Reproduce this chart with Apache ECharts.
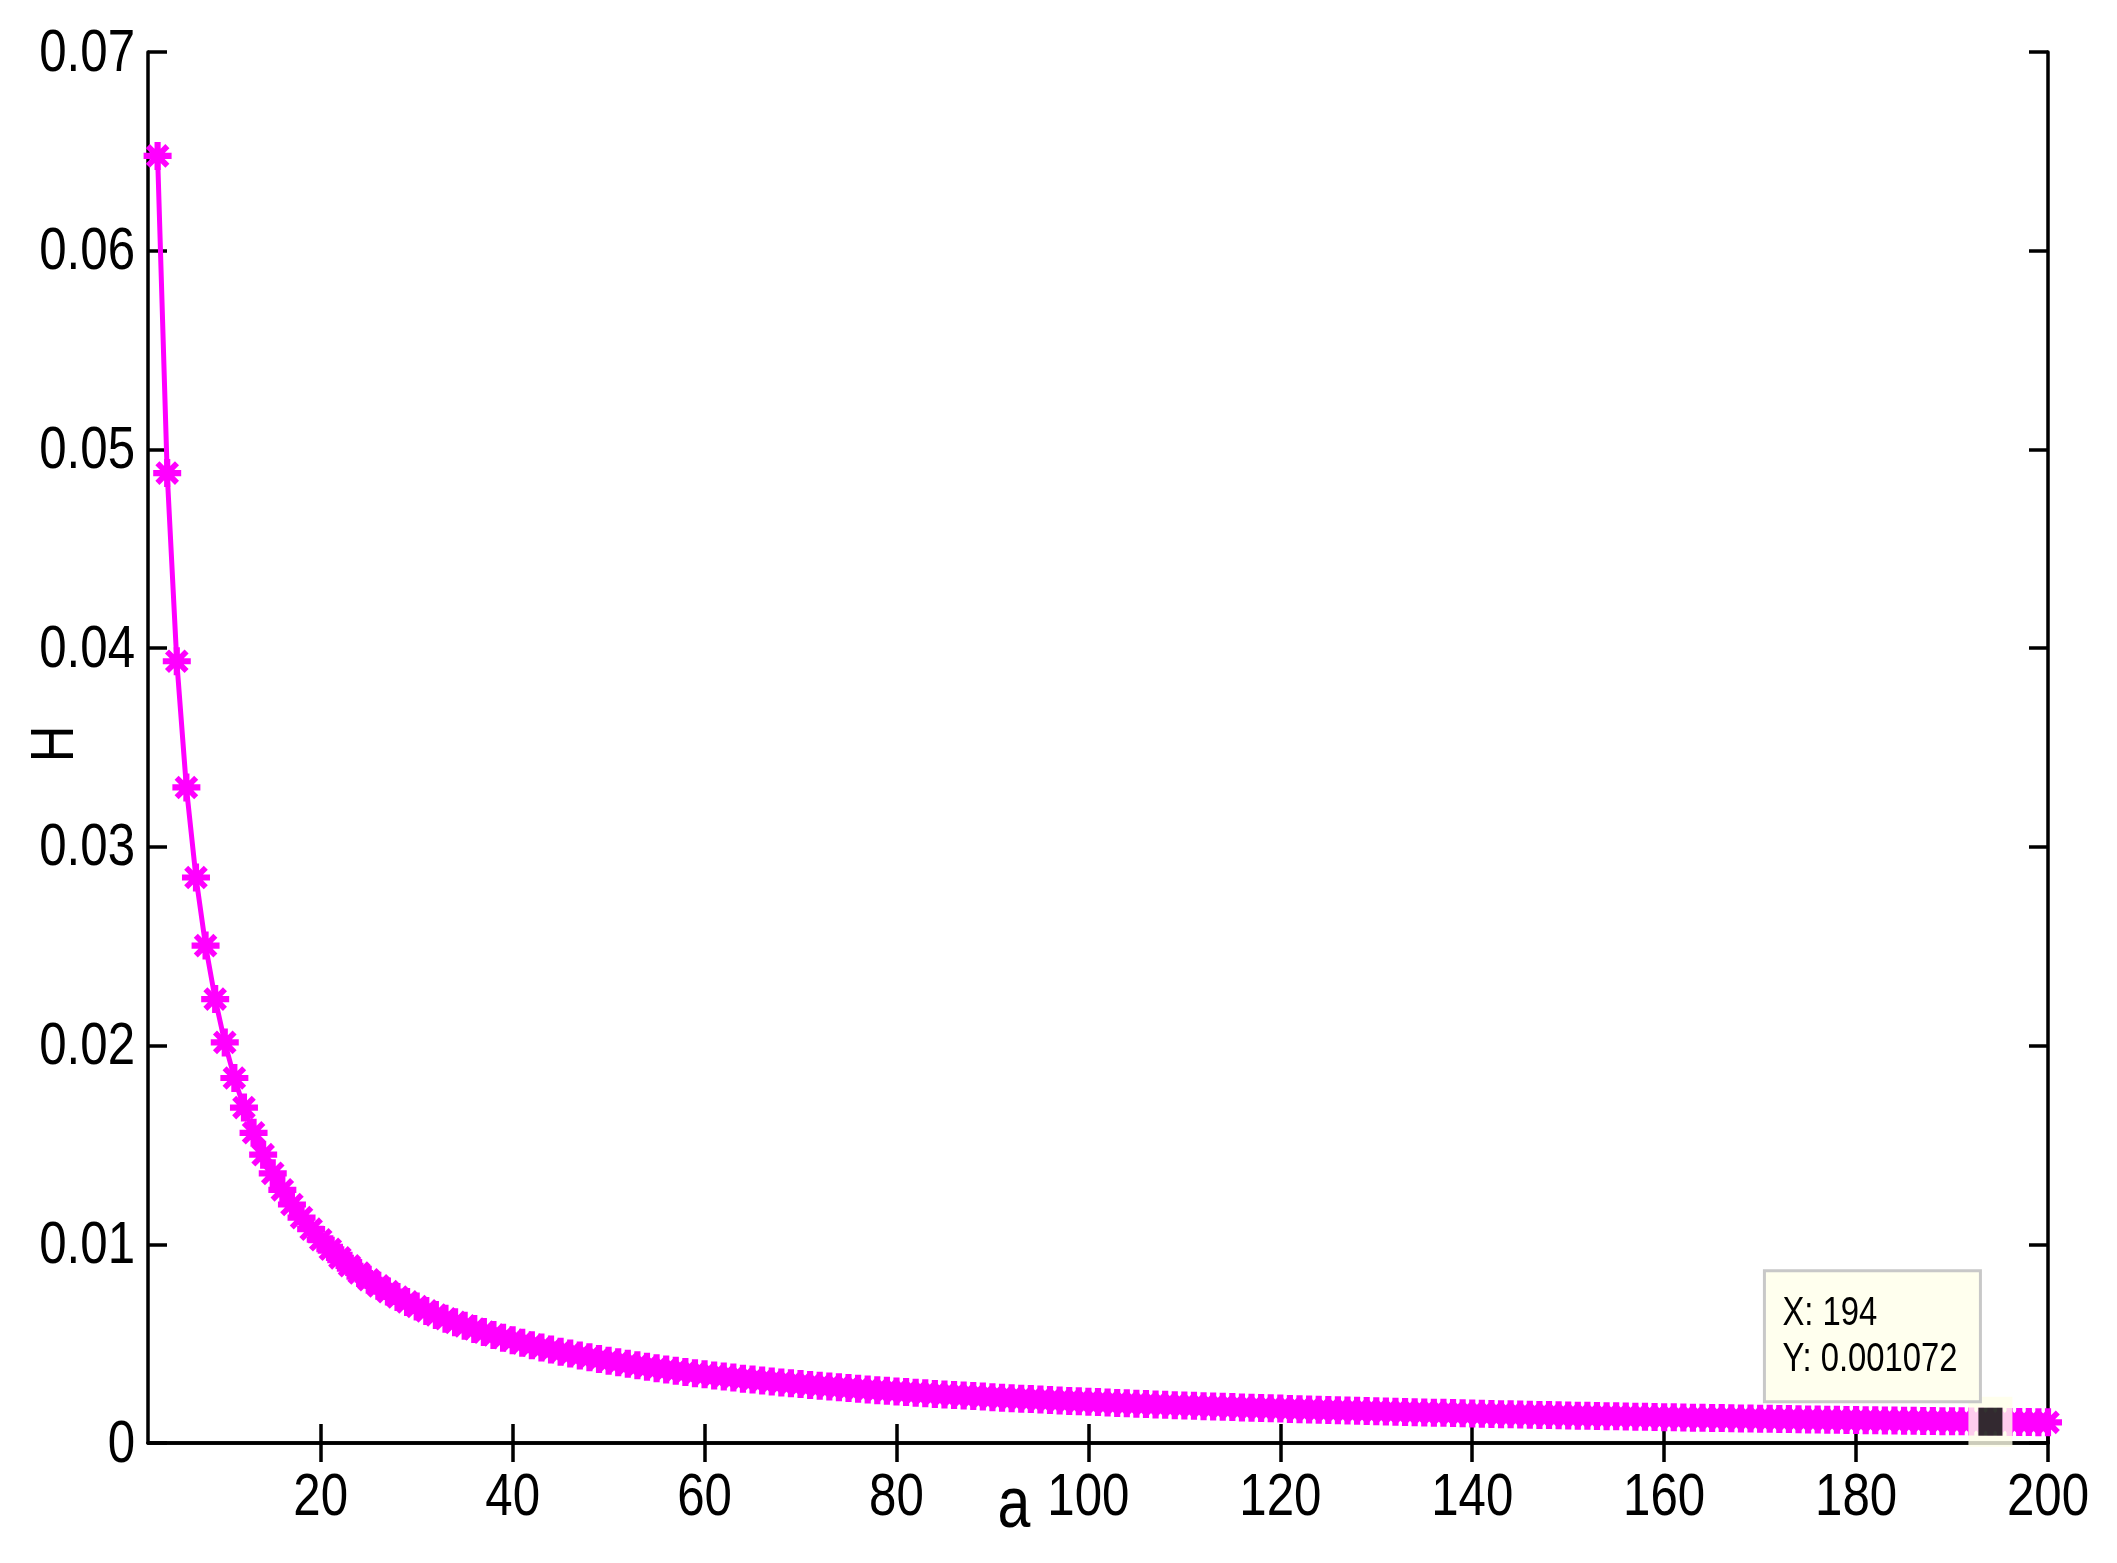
<!DOCTYPE html>
<html>
<head>
<meta charset="utf-8">
<script src="https://cdn.jsdelivr.net/npm/echarts@6/dist/echarts.min.js"></script>
<style>
html,body{margin:0;padding:0;background:#fff;}
#chart{width:2117px;height:1563px;}
</style>
</head>
<body>
<div id="chart"></div>
<script>
const aValues = [3,4,5,6,7,8,9,10,11,12,13,14,15,16,17,18,19,20,21,22,23,24,25,26,27,28,29,30,31,32,33,34,35,36,37,38,39,40,41,42,43,44,45,46,47,48,49,50,51,52,53,54,55,56,57,58,59,60,61,62,63,64,65,66,67,68,69,70,71,72,73,74,75,76,77,78,79,80,81,82,83,84,85,86,87,88,89,90,91,92,93,94,95,96,97,98,99,100,101,102,103,104,105,106,107,108,109,110,111,112,113,114,115,116,117,118,119,120,121,122,123,124,125,126,127,128,129,130,131,132,133,134,135,136,137,138,139,140,141,142,143,144,145,146,147,148,149,150,151,152,153,154,155,156,157,158,159,160,161,162,163,164,165,166,167,168,169,170,171,172,173,174,175,176,177,178,179,180,181,182,183,184,185,186,187,188,189,190,191,192,193,194,195,196,197,198,199,200];
const hValues = [0.06477,0.04881,0.03934,0.03299,0.02846,0.02503,0.02234,0.02016,0.01837,0.01688,0.01561,0.01451,0.01357,0.01274,0.01200,0.01134,0.01076,0.01023,0.009752,0.009318,0.008917,0.008554,0.008216,0.007908,0.007619,0.007350,0.007100,0.006867,0.006648,0.006444,0.006252,0.006071,0.005897,0.005736,0.005581,0.005437,0.005297,0.005168,0.005041,0.004924,0.004809,0.004702,0.004598,0.004498,0.004404,0.004313,0.004224,0.004140,0.004061,0.003983,0.003908,0.003835,0.003767,0.003700,0.003635,0.003572,0.003512,0.003455,0.003398,0.003344,0.003290,0.003239,0.003191,0.003142,0.003096,0.003050,0.003006,0.002963,0.002923,0.002882,0.002842,0.002804,0.002767,0.002730,0.002695,0.002660,0.002628,0.002595,0.002563,0.002532,0.002501,0.002471,0.002442,0.002414,0.002386,0.002359,0.002334,0.002308,0.002282,0.002258,0.002233,0.002210,0.002186,0.002164,0.002141,0.002119,0.002098,0.002077,0.002057,0.002037,0.002017,0.001998,0.001979,0.001960,0.001942,0.001924,0.001906,0.001889,0.001872,0.001855,0.001839,0.001823,0.001807,0.001791,0.001776,0.001761,0.001746,0.001732,0.001717,0.001703,0.001689,0.001676,0.001662,0.001649,0.001636,0.001623,0.001611,0.001598,0.001586,0.001574,0.001562,0.001551,0.001539,0.001528,0.001517,0.001506,0.001495,0.001484,0.001474,0.001463,0.001453,0.001443,0.001433,0.001423,0.001414,0.001404,0.001395,0.001385,0.001377,0.001368,0.001359,0.001350,0.001341,0.001333,0.001324,0.001316,0.001308,0.001299,0.001291,0.001283,0.001275,0.001268,0.001260,0.001252,0.001245,0.001238,0.001230,0.001223,0.001216,0.001209,0.001202,0.001195,0.001188,0.001181,0.001175,0.001168,0.001161,0.001155,0.001149,0.001142,0.001136,0.001130,0.001124,0.001118,0.001112,0.001106,0.001100,0.001094,0.001089,0.001083,0.001078,0.001072,0.001067,0.001061,0.001056,0.001051,0.001045,0.001040];
const xTickValues = [20,40,60,80,100,120,140,160,180,200];
const xTickLabels = ['20','40','60','80','100','120','140','160','180','200'];
const yTickValues = [0,0.01,0.02,0.03,0.04,0.05,0.06,0.07];
const yTickLabels = ['0','0.01','0.02','0.03','0.04','0.05','0.06','0.07'];
const xRange = [2, 200];
const yRange = [0, 0.07];
const tipPoint = [194, 0.001072];
const tipLines = ['X: 194', 'Y: 0.001072'];
const xLabel = 'a';
const yLabel = 'H';

const FONT = "'Liberation Sans', Arial, sans-serif";
const NARROW = 0.82;
const MAGENTA = '#ff00ff';
const asterisk = 'path://M0 39L100 39L100 61L0 61Z M39 0L61 0L61 100L39 100Z M22.2 7.8L92.2 77.8L77.8 92.2L7.8 22.2Z M92.2 22.2L22.2 92.2L7.8 77.8L77.8 7.8Z';

const chart = echarts.init(document.getElementById('chart'), null, {renderer: 'canvas'});
const lineData = aValues.map((a, i) => [a, hValues[i]]);
const axisLineStyle = {color: '#000', width: 3.5};
const tickStyle = {color: '#000', width: 3.5};

chart.setOption({
  animation: false,
  backgroundColor: '#fff',
  grid: {left: 148, top: 52, width: 1900, height: 1391, containLabel: false},
  xAxis: [{
    type: 'value', position: 'bottom', min: xRange[0], max: xRange[1],
    axisLine: {show: true, lineStyle: axisLineStyle},
    axisTick: {show: true, inside: true, length: 19, lineStyle: tickStyle, customValues: xTickValues},
    axisLabel: {show: false},
    splitLine: {show: false}
  }, {
    type: 'value', position: 'top', min: xRange[0], max: xRange[1],
    axisLine: {show: true, lineStyle: axisLineStyle},
    axisTick: {show: true, inside: true, length: 19, lineStyle: tickStyle, customValues: xTickValues},
    axisLabel: {show: false},
    splitLine: {show: false}
  }],
  yAxis: [{
    type: 'value', position: 'left', min: yRange[0], max: yRange[1], interval: 0.01,
    axisLine: {show: true, lineStyle: axisLineStyle},
    axisTick: {show: true, inside: true, length: 19, lineStyle: tickStyle},
    axisLabel: {show: false},
    splitLine: {show: false}
  }, {
    type: 'value', position: 'right', min: yRange[0], max: yRange[1], interval: 0.01,
    axisLine: {show: true, lineStyle: axisLineStyle},
    axisTick: {show: true, inside: true, length: 19, lineStyle: tickStyle},
    axisLabel: {show: false},
    splitLine: {show: false}
  }],
  series: [{
    type: 'line', xAxisIndex: 0, yAxisIndex: 0,
    data: lineData,
    symbol: asterisk, symbolSize: 28, showSymbol: true, showAllSymbol: true,
    itemStyle: {color: MAGENTA},
    lineStyle: {color: MAGENTA, width: 5},
    clip: false, z: 3
  }, {
    type: 'scatter', xAxisIndex: 0, yAxisIndex: 0,
    data: [tipPoint],
    symbol: 'rect', symbolSize: [44, 50],
    itemStyle: {color: '#ffffe8'}, z: 5, silent: true
  }, {
    type: 'scatter', xAxisIndex: 0, yAxisIndex: 0,
    data: [tipPoint],
    symbol: 'rect', symbolSize: [24, 28],
    itemStyle: {color: '#000'}, z: 6, silent: true
  }]
});

// Tick labels, axis names and the data tip, placed through the chart's own scales
function toPx(x, y) { return chart.convertToPixel({gridIndex: 0}, [x, y]); }
const g = [];
const txt = (text, x, y, size, align, extra) => Object.assign({
  type: 'text', x: x, y: y, scaleX: NARROW, z: 10,
  style: {text: text, fontSize: size, fontFamily: FONT, fill: '#000', align: align, verticalAlign: 'middle'}
}, extra || {});

const axisBottom = toPx(xRange[0], yRange[0]);
xTickValues.forEach((v, i) => {
  const p = toPx(v, yRange[0]);
  g.push(txt(xTickLabels[i], p[0], p[1] + 55, 60, 'center'));
});
yTickValues.forEach((v, i) => {
  const p = toPx(xRange[0], v);
  g.push(txt(yTickLabels[i], p[0] - 13, p[1] + 2, 60, 'right'));
});
g.push(txt(xLabel, 1014, axisBottom[1] + 64, 72, 'center'));
g.push({
  type: 'text', x: 56, y: 744, rotation: Math.PI / 2, scaleX: NARROW, z: 10,
  style: {text: yLabel, fontSize: 62, fontFamily: FONT, fill: '#000', align: 'center', verticalAlign: 'middle'}
});

const tp = toPx(tipPoint[0], tipPoint[1]);
g.push({
  type: 'rect', z: 9,
  shape: {x: tp[0] - 226, y: tp[1] - 151, width: 216, height: 131},
  style: {fill: '#ffffee', stroke: '#c8c8c8', lineWidth: 3}
});
g.push(txt(tipLines[0], tp[0] - 208, tp[1] - 108, 40, 'left'));
g.push(txt(tipLines[1], tp[0] - 208, tp[1] - 62, 40, 'left'));

chart.setOption({graphic: g});
</script>
</body>
</html>
